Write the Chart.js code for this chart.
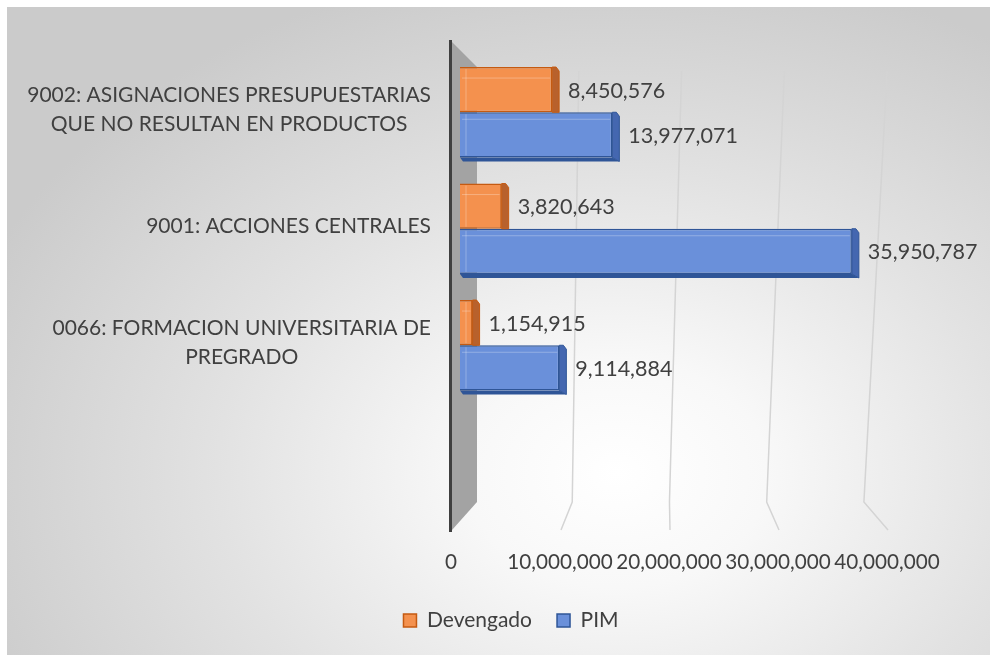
<!DOCTYPE html>
<html><head><meta charset="utf-8">
<script src="https://cdn.jsdelivr.net/npm/chart.js@4.4.1/dist/chart.umd.min.js"></script>
<style>
html,body{margin:0;padding:0;background:#fff;overflow:hidden;}
#bg{position:absolute;left:7px;top:7px;width:983px;height:648px;
 background:radial-gradient(ellipse 70% 80% at 62% 72%, #ffffff 0%, #f8f8f8 22%, #e2e2e2 58%, #cbcbcb 100%);}
#wrap{position:absolute;left:0;top:0;width:990px;height:655px;}
</style></head><body>
<div id="bg"></div>
<div id="wrap"><canvas id="c" width="990" height="655"></canvas></div>
<script>
// ---- data ----
const categories = [
  ['9002: ASIGNACIONES PRESUPUESTARIAS', 'QUE NO RESULTAN EN PRODUCTOS'],
  ['9001: ACCIONES CENTRALES'],
  ['0066: FORMACION UNIVERSITARIA DE', 'PREGRADO']
];
const seriesNames = ['Devengado', 'PIM'];
const devengado = [8450576, 3820643, 1154915];
const pim = [13977071, 35950787, 9114884];
const xTicks = [0, 10000000, 20000000, 30000000, 40000000];

// ---- styles ----
const FONT = 'Lato';
const FS = 21.5;
const TICK_FS = 20.7;
const CAT_FS = 21;
const TXT = '#404040';
const fills = ['#F4914E', '#6A90DA'];
const borders = ['#C55A11', '#2F5597'];
const sides = ['#B8612C', '#4467B0'];
const fmt = v => v.toLocaleString('en-US');

const decor = {
  id: 'decor',
  beforeDatasetsDraw(chart) {
    const {ctx, chartArea: ca, scales: {x}} = chart;
    const z = x.getPixelForValue(0);
    const frontZ = z - 8;
    ctx.save();
    // perspective gridlines
    ctx.strokeStyle = '#d4d4d4';
    ctx.lineWidth = 1.5;
    xTicks.forEach(v => {
      if (v === 0) return;
      const f = x.getPixelForValue(v) - 8;
      const bt = frontZ + 24 + (f - frontZ) * 0.943;
      const bb = frontZ + 23 + (f - frontZ) * 0.892;
      ctx.beginPath();
      ctx.moveTo(bt, ca.top + 17);
      ctx.lineTo(bb, ca.bottom - 18);
      ctx.lineTo(f, ca.bottom + 10);
      ctx.stroke();
    });
    // side wall
    ctx.fillStyle = '#a3a3a3';
    ctx.beginPath();
    ctx.moveTo(frontZ, ca.top - 12);
    ctx.lineTo(frontZ + 25, ca.top + 13);
    ctx.lineTo(frontZ + 25, ca.bottom - 18);
    ctx.lineTo(frontZ, ca.bottom + 10);
    ctx.closePath();
    ctx.fill();
    ctx.fillStyle = '#3f3f3f';
    ctx.fillRect(frontZ - 3, ca.top - 14, 3, ca.bottom - ca.top + 26);
    ctx.restore();
  },
  afterDatasetDraw(chart, args) {
    const {ctx} = chart;
    const i = args.index;
    const d = 7;
    ctx.save();
    args.meta.data.forEach(el => {
      const top = el.y - el.height / 2, bot = el.y + el.height / 2;
      const xr = el.x, xb = el.base;
      // inner bevel highlights
      ctx.strokeStyle = 'rgba(255,255,255,0.28)';
      ctx.lineWidth = 1;
      ctx.beginPath();
      ctx.moveTo(xb + 2, top + (i === 0 ? 11 : 7));
      ctx.lineTo(xr - 2, top + (i === 0 ? 11 : 7));
      ctx.moveTo(xb + 6, top + 2);
      ctx.lineTo(xb + 6, bot - 2);
      ctx.stroke();
      // right side face
      ctx.fillStyle = sides[i];
      ctx.strokeStyle = borders[i];
      ctx.lineWidth = 1;
      ctx.beginPath();
      ctx.moveTo(xr, top);
      ctx.lineTo(xr + d - 3, top);
      ctx.lineTo(xr + d, top + 4);
      ctx.lineTo(xr + d, bot + (i === 1 ? 4 : 0));
      ctx.lineTo(xr, bot);
      ctx.closePath();
      ctx.fill();
      ctx.stroke();
      if (i === 1) {
        ctx.fillStyle = '#2F5597';
        ctx.beginPath();
        ctx.moveTo(xb, bot);
        ctx.lineTo(xr, bot);
        ctx.lineTo(xr + d, bot + 4);
        ctx.lineTo(xb + 3, bot + 4);
        ctx.closePath();
        ctx.fill();
      }
    });
    ctx.restore();
  },
  afterDatasetsDraw(chart) {
    const {ctx} = chart;
    ctx.save();
    ctx.font = `${FS}px ${FONT}`;
    ctx.fillStyle = TXT;
    ctx.textAlign = 'left';
    ctx.textBaseline = 'middle';
    chart.data.datasets.forEach((ds, di) => {
      chart.getDatasetMeta(di).data.forEach((el, j) => {
        ctx.fillText(fmt(ds.data[j]), el.x + 16, el.y + 1);
      });
    });
    // category labels: block right-aligned, lines centered within block
    ctx.font = `${CAT_FS}px ${FONT}`;
    const y = chart.scales.y;
    const right = 431, lh = 29;
    categories.forEach((lines, j) => {
      const cy = y.getPixelForValue(j);
      const w = Math.max(...lines.map(l => ctx.measureText(l).width));
      const cx = right - w / 2;
      ctx.textAlign = 'center';
      lines.forEach((l, k) => {
        ctx.fillText(l, cx, cy + (k - (lines.length - 1) / 2) * lh - 3);
      });
    });
    ctx.restore();
  }
};

new Chart(document.getElementById('c'), {
  type: 'bar',
  data: {
    labels: categories.map(c => c.join(' ')).concat(['']),
    datasets: [
      {label: seriesNames[0], data: devengado, backgroundColor: fills[0], borderColor: borders[0], borderWidth: 1.5},
      {label: seriesNames[1], data: pim, backgroundColor: fills[1], borderColor: borders[1], borderWidth: 1.5}
    ]
  },
  options: {
    indexAxis: 'y',
    responsive: false,
    animation: false,
    events: [],
    layout: {padding: {top: 54, right: 94, left: 126, bottom: 14}},
    datasets: {bar: {categoryPercentage: 0.776, barPercentage: 1}},
    scales: {
      x: {
        min: 0, max: 40000000,
        afterBuildTicks: s => { s.ticks = xTicks.map(v => ({value: v})); },
        afterFit: s => { s.height = 65; },
        grid: {display: false, drawTicks: false},
        border: {display: false},
        ticks: {
          padding: 30, labelOffset: -9, color: TXT,
          maxRotation: 0, minRotation: 0, autoSkip: false,
          font: {family: FONT, size: TICK_FS},
          callback: v => fmt(v)
        }
      },
      y: {
        afterFit: s => { s.width = 334; },
        grid: {display: false, drawTicks: false},
        border: {display: false},
        ticks: {display: false}
      }
    },
    plugins: {
      tooltip: {enabled: false},
      legend: {
        position: 'bottom',
        labels: {boxWidth: 13, boxHeight: 13, padding: 25, color: TXT, font: {family: FONT, size: 21}}
      }
    }
  },
  plugins: [decor]
});
</script>
</body></html>
